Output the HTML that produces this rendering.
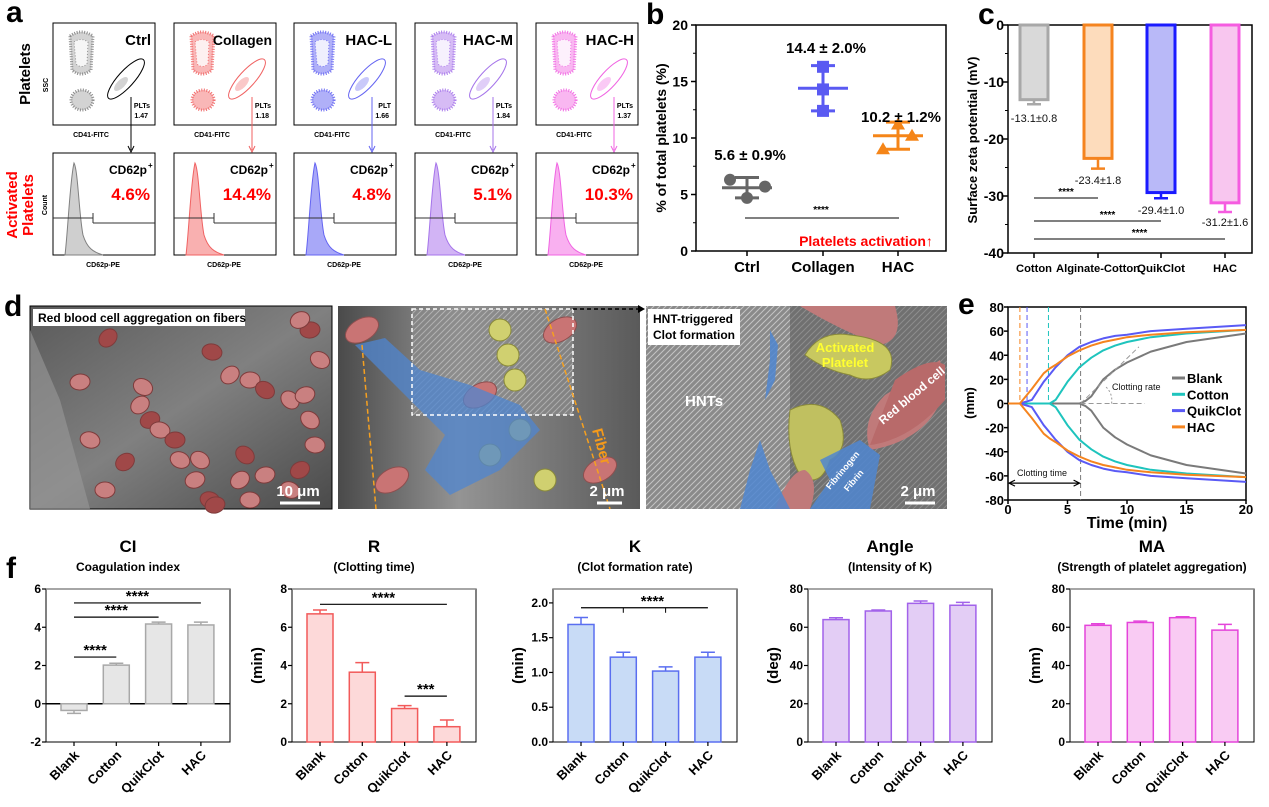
<!DOCTYPE html>
<html><head><meta charset="utf-8"><style>
html,body{margin:0;padding:0;background:#fff}
svg{display:block;font-family:"Liberation Sans",Arial,sans-serif}
</style></head><body>
<svg id="fig" width="1269" height="807" viewBox="0 0 1269 807" xmlns="http://www.w3.org/2000/svg">
<defs>
<linearGradient id="semA" x1="0" y1="0" x2="1" y2="1"><stop offset="0" stop-color="#5a5a5a"/><stop offset="0.5" stop-color="#808080"/><stop offset="1" stop-color="#4a4a4a"/></linearGradient>
<linearGradient id="semB" x1="0" y1="0" x2="1" y2="0"><stop offset="0" stop-color="#4a4a4a"/><stop offset="0.4" stop-color="#949494"/><stop offset="1" stop-color="#5a5a5a"/></linearGradient>
<pattern id="fibers" width="6" height="6" patternUnits="userSpaceOnUse"><rect width="6" height="6" fill="#8a8a8a"/><path d="M0 6L6 0M-1 1L1 -1M5 7L7 5" stroke="#c4c4c4" stroke-width="1"/></pattern>
</defs>
</svg>
<script>
const NS='http://www.w3.org/2000/svg';
const svg=document.getElementById('fig');
function mk(tag,attrs,parent){const e=document.createElementNS(NS,tag);for(const k in attrs)e.setAttribute(k,attrs[k]);(parent||svg).appendChild(e);return e;}
function tx(x,y,s,attrs,parent){const a=Object.assign({x:x,y:y,'font-size':12,fill:'#000'},attrs||{});const e=mk('text',a,parent);e.textContent=s;return e;}

/* ================= DATA ================= */
const aNames=['Ctrl','Collagen','HAC-L','HAC-M','HAC-H'];
const aPlt=['1.47','1.18','1.66','1.84','1.37'];
const aPltLbl=['PLTs','PLTs','PLT','PLTs','PLTs'];
const aPct=['4.6%','14.4%','4.8%','5.1%','10.3%'];
const bCats=['Ctrl','Collagen','HAC'];
const bPoints=[[6.3,5.7,4.7],[16.3,14.3,12.4],[11.2,10.2,9.0]];
const bMean=[5.6,14.4,10.2];
const bSD=[0.9,2.0,1.2];
const bTicks=[0,5,10,15,20];
const cCats=['Cotton','Alginate-Cotton','QuikClot','HAC'];
const cVals=[-13.1,-23.4,-29.4,-31.2];
const cErr=[0.8,1.8,1.0,1.6];
const cTicks=[0,-10,-20,-30,-40];
const eTimes=[0,1,2,3,3.5,4,5,6,6.5,7,8,9,10,12,15,20];
const eBlank=[0,0,0,0,0,0,0,0,2,6,20,28,34,43,51,58];
const eCotton=[0,0,0,0,0,3,18,30,34,38,44,48,51,55,58,61];
const eQuik=[0,0,3,18,24,30,40,47,49,51,54,56,57,60,62,65];
const eHAC=[0,0,12,25,29,32,39,44,46,48,51,53,55,57,59,61];
const eR=[6.1,3.4,1.6,1.0];
const eYTicks=[80,60,40,20,0,-20,-40,-60,-80];
const eXTicks=[0,5,10,15,20];
const fCats=['Blank','Cotton','QuikClot','HAC'];
const ciVals=[-0.35,2.02,4.17,4.12], ciErr=[0.15,0.1,0.1,0.15];
const rVals=[6.7,3.65,1.75,0.8], rErr=[0.2,0.5,0.15,0.35];
const kVals=[1.69,1.22,1.02,1.22], kErr=[0.1,0.07,0.06,0.07];
const angVals=[64,68.5,72.5,71.5], angErr=[1,0.5,1.2,1.5];
const maVals=[61,62.5,65,58.5], maErr=[0.8,0.7,0.5,3];
const ciTicks=[-2,0,2,4,6], rTicks=[0,2,4,6,8], kTicks=[0,0.5,1,1.5,2], kTickLbl=['0.0','0.5','1.0','1.5','2.0'], angTicks=[0,20,40,60,80];

/* ================= PANEL LETTERS ================= */
[['a',6,22],['b',646,24],['c',978,24],['d',4,316],['e',958,314],['f',6,578]].forEach(p=>{
  const t=tx(p[1],p[2],p[0],{'font-size':30,'font-weight':'bold'});
  
  
});

/* ================= PANEL A ================= */
const aCol=['#808080','#f06262','#6464f2','#a574ea','#f064e2'];
const aFill=['#cfcfcf','#f9b0b0','#a8a8f8','#d2b4f5','#f9b0f0'];
const aX=[53,174,294,415,536], aW=102;
{
 const g=mk('g',{});
 
 
 let t=tx(0,0,'Platelets',{'font-size':15,'font-weight':'bold',transform:'translate(30,74) rotate(-90)','text-anchor':'middle'},g);
 
 tx(0,0,'SSC',{'font-size':7,'font-weight':'bold',transform:'translate(48,85) rotate(-90)','text-anchor':'middle'},g);
 t=tx(0,0,'Activated',{'font-size':15,'font-weight':'bold',fill:'#f00',transform:'translate(17,205) rotate(-90)','text-anchor':'middle'},g);
 
 tx(0,0,'Platelets',{'font-size':15,'font-weight':'bold',fill:'#f00',transform:'translate(33,205) rotate(-90)','text-anchor':'middle'},g);
 tx(0,0,'Count',{'font-size':7,'font-weight':'bold',transform:'translate(47,205) rotate(-90)','text-anchor':'middle'},g);
 for(let i=0;i<5;i++){
  const x=aX[i], c=aCol[i];
  const sg=mk('g',{},g);
  
  
  mk('rect',{x:x,y:23,width:aW,height:102,fill:'#fff',stroke:'#000','stroke-width':1},sg);
  mk('path',{d:`M${x+17} 36 Q${x+28} 28 ${x+40} 36 L${x+38} 70 Q${x+28} 78 ${x+19} 70 Z`,fill:aFill[i],stroke:c,'stroke-width':3,'stroke-dasharray':'1 1.5',opacity:0.9},sg);
  mk('path',{d:`M${x+21} 42 Q${x+28} 37 ${x+35} 42 L${x+34} 64 Q${x+28} 69 ${x+23} 64 Z`,fill:'#fff',stroke:c,'stroke-width':1,'stroke-dasharray':'1 2',opacity:0.8},sg);
  mk('ellipse',{cx:x+29,cy:100,rx:11,ry:10,fill:aFill[i],stroke:c,'stroke-width':3,'stroke-dasharray':'1 1.5',opacity:0.9},sg);
  mk('ellipse',{cx:x+68,cy:84,rx:9,ry:4,fill:c,opacity:0.35,transform:`rotate(-45 ${x+68} 84)`},sg);
  mk('ellipse',{cx:x+73,cy:79,rx:26,ry:8,fill:'none',stroke:i==0?'#000':c,'stroke-width':1,transform:`rotate(-48 ${x+73} 79)`},sg);
  tx(x+aW-4,45,aNames[i],{'font-size':i==1?14:15,'font-weight':'bold','text-anchor':'end'},sg);
  tx(x+aW-5,108,aPltLbl[i],{'font-size':7,'font-weight':'bold','text-anchor':'end'},sg);
  tx(x+aW-7,118,aPlt[i],{'font-size':7,'font-weight':'bold','text-anchor':'end'},sg);
  tx(x+38,137,'CD41-FITC',{'font-size':7,'font-weight':'bold','text-anchor':'middle'},sg);
  mk('line',{x1:x+78,y1:97,x2:x+78,y2:150,stroke:i==0?'#000':c,'stroke-width':1},sg);
  mk('path',{d:`M${x+75} 146 L${x+78} 152 L${x+81} 146`,fill:'none',stroke:i==0?'#000':c},sg);
  const hg=mk('g',{},g);
  
  
  mk('rect',{x:x,y:153,width:aW,height:102,fill:'#fff',stroke:'#000','stroke-width':1},hg);
  mk('path',{d:`M${x+12} 255 C${x+15} 230 ${x+17} 180 ${x+21} 163 C${x+25} 170 ${x+26} 215 ${x+30} 235 C${x+34} 248 ${x+40} 252 ${x+50} 255 Z`,fill:aFill[i],stroke:c,'stroke-width':1},hg);
  mk('path',{d:`M${x} 218 H${x+40} M${x+40} 213 V223 M${x+40} 223 H${x+aW}`,stroke:'#333','stroke-width':1,fill:'none'},hg);
  tx(x+aW-8,174,'CD62p',{'font-size':12,'font-weight':'bold','text-anchor':'end'},hg);
  tx(x+aW-7,168,'+',{'font-size':8,'font-weight':'bold','text-anchor':'start'},hg);
  tx(x+aW-5,200,aPct[i],{'font-size':17,'font-weight':'bold',fill:'#f00','text-anchor':'end'},hg);
  tx(x+50,267,'CD62p-PE',{'font-size':7,'font-weight':'bold','text-anchor':'middle'},hg);
 }
}

/* ================= PANEL B ================= */
{
 const g=mk('g',{});
 
 
 const L=696,R=946,T=25,B=251;
 const y=v=>B-(v/20)*(B-T);
 const xc=[747,823,898];
 mk('path',{d:`M${L} ${T}H${R}V${B}H${L}Z`,fill:'none',stroke:'#000','stroke-width':1.5},g);
 bTicks.forEach(v=>{
  mk('line',{x1:L-5,x2:L,y1:y(v),y2:y(v),stroke:'#000','stroke-width':1.5},g);
  const t=tx(L-8,y(v)+5,String(v),{'font-size':14,'font-weight':'bold','text-anchor':'end'},g);
  
 });
 [2.5,7.5,12.5,17.5].forEach(v=>mk('line',{x1:L-3,x2:L,y1:y(v),y2:y(v),stroke:'#000'},g));
 const yl=tx(0,0,'% of total platelets (%)',{'font-size':14,'font-weight':'bold','text-anchor':'middle',transform:'translate(666,138) rotate(-90)'},g);
 
 const cols=['#666','#5a5af2','#f58518'];
 const lbl=['5.6 ± 0.9%','14.4 ± 2.0%','10.2 ± 1.2%'];
 const lblY=[160,53,122];
 const offs=[[-17,18,0],[0,0,0],[0,14,-15]];
 for(let i=0;i<3;i++){
  const cx=xc[i];
  mk('line',{x1:cx,x2:cx,y1:B,y2:B+5,stroke:'#000','stroke-width':1.5},g);
  const ct=tx(cx,272,bCats[i],{'font-size':15,'font-weight':'bold','text-anchor':'middle'},g);
  
  const eg=mk('g',{},g);
  
  
  mk('line',{x1:cx-25,x2:cx+25,y1:y(bMean[i]),y2:y(bMean[i]),stroke:cols[i],'stroke-width':3},eg);
  mk('path',{d:`M${cx} ${y(bMean[i]+bSD[i])}V${y(bMean[i]-bSD[i])}M${cx-12} ${y(bMean[i]+bSD[i])}H${cx+12}M${cx-12} ${y(bMean[i]-bSD[i])}H${cx+12}`,stroke:cols[i],'stroke-width':3,fill:'none'},eg);
  bPoints[i].forEach((v,j)=>{
   const px=cx+offs[i][j], py=y(v);
   let m;
   if(i==0) m=mk('circle',{cx:px,cy:py,r:6,fill:cols[i]},g);
   else if(i==1) m=mk('rect',{x:px-6,y:py-6,width:12,height:12,fill:cols[i]},g);
   else m=mk('path',{d:`M${px} ${py-7}L${px+7} ${py+5}L${px-7} ${py+5}Z`,fill:cols[i]},g);
   
   
  });
  const vt=tx(cx+3,lblY[i],lbl[i],{'font-size':15,'font-weight':'bold','text-anchor':'middle'},g);
  
 }
 mk('line',{x1:745,x2:899,y1:218,y2:218,stroke:'#000','stroke-width':1},g);
 tx(821,213,'****',{'font-size':10,'font-weight':'bold','text-anchor':'middle'},g);
 const pa=tx(866,246,'Platelets activation↑',{'font-size':14,'font-weight':'bold',fill:'#f00','text-anchor':'middle'},g);
 
}

/* ================= PANEL C ================= */
{
 const g=mk('g',{});
 
 
 const L=1008,R=1252,T=25,B=253;
 const y=v=>T+(-v/40)*(B-T);
 const xc=[1034,1098,1161,1225];
 const cols=['#a8a8a8','#f5841f','#1a1aff','#f55ce0'], fills=['#d9d9d9','#fddcbc','#b9b9f8','#f8c6ef'];
 mk('path',{d:`M${L} ${B}V${T}H${R}V${B}Z`,fill:'none',stroke:'#000','stroke-width':1.5},g);
 cTicks.forEach(v=>{
  mk('line',{x1:L-5,x2:L,y1:y(v),y2:y(v),stroke:'#000','stroke-width':1.5},g);
  const t=tx(L-4,y(v)+5,String(v),{'font-size':14,'font-weight':'bold','text-anchor':'end'},g);
  
 });
 [-5,-15,-25,-35].forEach(v=>mk('line',{x1:L-3,x2:L,y1:y(v),y2:y(v),stroke:'#000'},g));
 const yl=tx(0,0,'Surface zeta potential (mV)',{'font-size':13,'font-weight':'bold','text-anchor':'middle',transform:'translate(977,140) rotate(-90)'},g);
 
 const lblY=[122,184,214,226];
 const lblW=[36,84,48,0];
 for(let i=0;i<4;i++){
  const cx=xc[i], bw=28;
  const b=mk('rect',{x:cx-bw/2,y:y(0),width:bw,height:y(cVals[i])-y(0),fill:fills[i],stroke:cols[i],'stroke-width':3},g);
  
  
  mk('path',{d:`M${cx} ${y(cVals[i])}V${y(cVals[i]-cErr[i])}M${cx-7} ${y(cVals[i]-cErr[i])}H${cx+7}`,stroke:cols[i],'stroke-width':2.5,fill:'none'},g);
  mk('line',{x1:cx,x2:cx,y1:B,y2:B+5,stroke:'#000','stroke-width':1.5},g);
  const ca={'font-size':11,'font-weight':'bold','text-anchor':'middle'};
  if(lblW[i]){ca.textLength=lblW[i];ca.lengthAdjust='spacingAndGlyphs';}
  const ct=tx(cx,272,cCats[i],ca,g);
  
  tx(cx,lblY[i],cVals[i].toFixed(1)+'±'+cErr[i].toFixed(1),{'font-size':11,'text-anchor':'middle',fill:'#111'},g);
 }
 [[1098,198],[1161,221],[1225,239]].forEach((s,j)=>{
  mk('line',{x1:1034,x2:s[0],y1:s[1],y2:s[1],stroke:'#000','stroke-width':1},g);
  tx(1034+(s[0]-1034)/2+(j==0?0:10),s[1]-3,'****',{'font-size':10,'font-weight':'bold','text-anchor':'middle'},g);
 });
}

/* ================= PANEL D (SEM images) ================= */
{
 const g=mk('g',{});
 
 
 const Y0=306,H=203;
 // image 1
 const i1=mk('g',{},g);
 
 
 mk('rect',{x:30,y:Y0,width:302,height:H,fill:'url(#semA)',stroke:'#000'},i1);
 mk('path',{d:'M30 330 L60 400 L90 509 L30 509Z',fill:'#9a9a9a',opacity:0.6},i1);
 const rbc=[[108,338],[80,382],[143,387],[150,420],[160,430],[140,405],[175,440],[200,460],[195,480],[210,500],[240,480],[250,500],[245,455],[265,475],[290,490],[300,470],[315,445],[290,400],[310,330],[320,360],[300,320],[212,352],[230,375],[250,380],[265,390],[305,395],[90,440],[125,462],[105,490],[310,420],[215,505],[180,460]];
 rbc.forEach((p,k)=>mk('ellipse',{cx:p[0],cy:p[1],rx:10,ry:8,fill:k%3==0?'#a04848':'#c98080',stroke:'#7e3b3b','stroke-width':1,transform:`rotate(${k*37%90-45} ${p[0]} ${p[1]})`},i1));
 mk('rect',{x:33,y:309,width:212,height:17,fill:'#fff'},i1);
 tx(38,322,'Red blood cell aggregation on fibers',{'font-size':12,'font-weight':'bold'},i1);
 mk('line',{x1:280,x2:320,y1:503,y2:503,stroke:'#fff','stroke-width':3},i1);
 tx(298,496,'10 μm',{'font-size':15,'font-weight':'bold',fill:'#fff','text-anchor':'middle'},i1);
 // image 2
 const i2=mk('g',{},g);
 
 
 mk('rect',{x:338,y:Y0,width:302,height:H,fill:'url(#semB)'},i2);
 mk('rect',{x:412,y:309,width:161,height:106,fill:'url(#fibers)',opacity:0.7},i2);
 [[362,330],[560,330],[392,480],[480,395],[600,470]].forEach(p=>mk('ellipse',{cx:p[0],cy:p[1],rx:18,ry:11,fill:'#c97474',stroke:'#8e4f4f',transform:`rotate(-30 ${p[0]} ${p[1]})`},i2));
 [[500,330],[508,355],[515,380],[490,455],[545,480],[520,430]].forEach(p=>mk('circle',{cx:p[0],cy:p[1],r:11,fill:'#d0d070',stroke:'#8a8a3a'},i2));
 mk('path',{d:'M355 345 L385 338 L420 370 L470 385 L520 405 L540 430 L500 470 L450 495 L425 470 L445 435 Z',fill:'#4f86d0',opacity:0.75},i2);
 mk('rect',{x:412,y:309,width:161,height:106,fill:'none',stroke:'#fff','stroke-width':1.5,'stroke-dasharray':'4 3'},i2);
 mk('line',{x1:362,y1:345,x2:376,y2:509,stroke:'#f5a020','stroke-width':1.5,'stroke-dasharray':'5 3'},i2);
 mk('line',{x1:545,y1:309,x2:610,y2:509,stroke:'#f5a020','stroke-width':1.5,'stroke-dasharray':'5 3'},i2);
 tx(0,0,'Fiber',{'font-size':15,'font-weight':'bold',fill:'#f59a1a',transform:'translate(592,430) rotate(75)'},i2);
 mk('line',{x1:597,x2:622,y1:503,y2:503,stroke:'#fff','stroke-width':3},i2);
 tx(607,496,'2 μm',{'font-size':15,'font-weight':'bold',fill:'#fff','text-anchor':'middle'},i2);
 mk('line',{x1:573,y1:309,x2:642,y2:309,stroke:'#000','stroke-width':1.5,'stroke-dasharray':'4 3'},g);
 mk('path',{d:'M638 305 L645 309 L638 313Z',fill:'#000'},g);
 // image 3
 const i3=mk('g',{},g);
 
 
 mk('rect',{x:646,y:Y0,width:301,height:H,fill:'url(#fibers)'},i3);
 mk('rect',{x:790,y:Y0,width:157,height:H,fill:'#555',opacity:0.5},i3);
 mk('path',{d:'M800 306 L895 306 Q905 340 880 345 Q840 330 800 306Z',fill:'#c07a7a'},i3);
 mk('path',{d:'M885 395 L940 360 L945 390 Q930 440 870 450 Q860 420 885 395Z',fill:'#c07a7a'},i3);
 mk('path',{d:'M895 380 Q930 355 945 365 L945 400 Q910 440 870 445Z',fill:'#b86a6a'},i3);
 mk('path',{d:'M805 355 Q820 330 850 335 Q900 340 890 370 Q870 385 850 375 Q825 370 805 355Z',fill:'#c8c860',stroke:'#8a8a3a'},i3);
 mk('path',{d:'M790 410 Q820 395 840 420 Q850 450 830 460 Q820 490 800 475 Q785 450 790 410Z',fill:'#c0c060',stroke:'#8a8a3a'},i3);
 mk('path',{d:'M775 509 Q790 470 805 470 Q820 480 810 509Z',fill:'#c07a7a'},i3);
 mk('path',{d:'M820 460 L860 440 L880 455 L870 509 L810 509 L830 480Z',fill:'#4f86d0',opacity:0.85},i3);
 mk('path',{d:'M740 509 L750 470 L760 440 L770 470 L790 509Z',fill:'#4f86d0',opacity:0.85},i3);
 mk('path',{d:'M770 330 L778 345 L775 380 L765 400 L770 360Z',fill:'#4f86d0',opacity:0.85},i3);
 mk('rect',{x:648,y:309,width:92,height:36,fill:'#fff'},i3);
 tx(653,323,'HNT-triggered',{'font-size':12,'font-weight':'bold'},i3);
 tx(653,339,'Clot formation',{'font-size':12,'font-weight':'bold'},i3);
 tx(685,406,'HNTs',{'font-size':15,'font-weight':'bold',fill:'#fff'},i3);
 tx(845,352,'Activated',{'font-size':13,'font-weight':'bold',fill:'#ffff30','text-anchor':'middle'},i3);
 tx(845,367,'Platelet',{'font-size':13,'font-weight':'bold',fill:'#ffff30','text-anchor':'middle'},i3);
 tx(0,0,'Red blood cell',{'font-size':12,'font-weight':'bold',fill:'#fff',transform:'translate(883,425) rotate(-40)'},i3);
 tx(0,0,'Fibrinogen',{'font-size':9,'font-weight':'bold',fill:'#fff',transform:'translate(830,490) rotate(-50)'},i3);
 tx(0,0,'Fibrin',{'font-size':9,'font-weight':'bold',fill:'#fff',transform:'translate(848,492) rotate(-50)'},i3);
 mk('line',{x1:905,x2:935,y1:503,y2:503,stroke:'#fff','stroke-width':3},i3);
 tx(918,496,'2 μm',{'font-size':15,'font-weight':'bold',fill:'#fff','text-anchor':'middle'},i3);
}

/* ================= PANEL E (TEG curves) ================= */
{
 const g=mk('g',{});
 
 
 const L=1008,R=1246,T=307,B=500;
 const x=t=>L+t/20*(R-L), y=v=>T+(80-v)/160*(B-T);
 mk('rect',{x:L,y:T,width:R-L,height:B-T,fill:'none',stroke:'#000','stroke-width':1.5},g);
 eYTicks.forEach(v=>{
  mk('line',{x1:L-4,x2:L,y1:y(v),y2:y(v),stroke:'#000','stroke-width':1.5},g);
  const t=tx(L-4,y(v)+5,String(v),{'font-size':13,'font-weight':'bold','text-anchor':'end'},g);
  
 });
 eXTicks.forEach(v=>{
  mk('line',{x1:x(v),x2:x(v),y1:B,y2:B+4,stroke:'#000','stroke-width':1.5},g);
  const t=tx(x(v),514,String(v),{'font-size':13,'font-weight':'bold','text-anchor':'middle'},g);
  
 });
 const xt=tx(1127,528,'Time (min)',{'font-size':16,'font-weight':'bold','text-anchor':'middle'},g);
 
 const yt=tx(0,0,'(mm)',{'font-size':13,'font-weight':'bold','text-anchor':'middle',transform:'translate(974,403) rotate(-90)'},g);
 
 const series=[['Blank',eBlank,'#7a7a7a'],['Cotton',eCotton,'#1ec4bd'],['QuikClot',eQuik,'#5a5af5'],['HAC',eHAC,'#f5841f']];
 const rcols=['#7a7a7a','#1ec4bd','#5a5af5','#f5841f'];
 eR.forEach((r,i)=>{
  const l=mk('line',{x1:x(r),x2:x(r),y1:T,y2:i==0?B:y(0),stroke:rcols[i],'stroke-width':1,'stroke-dasharray':'5 3'},g);
  
  
 });
 series.forEach(s=>{
  const up='M'+eTimes.map((t,j)=>x(t).toFixed(1)+' '+y(s[1][j]).toFixed(1)).join(' L');
  const dn='M'+eTimes.map((t,j)=>x(t).toFixed(1)+' '+y(-s[1][j]).toFixed(1)).join(' L');
  const p=mk('path',{d:up+' '+dn,fill:'none',stroke:s[2],'stroke-width':2,'stroke-linejoin':'round'},g);
  
  
 });
 mk('line',{x1:x(6.1),y1:y(0),x2:x(11),y2:y(47),stroke:'#999','stroke-width':1,'stroke-dasharray':'5 3'},g);
 mk('line',{x1:x(6.1),y1:y(0),x2:x(11.5),y2:y(0),stroke:'#999','stroke-width':1,'stroke-dasharray':'5 3'},g);
 mk('path',{d:`M${x(8.7)} ${y(0)} A18 18 0 0 0 ${x(8.2)} ${y(14)}`,fill:'none',stroke:'#999','stroke-dasharray':'2 2'},g);
 tx(1112,390,'Clotting rate',{'font-size':9,fill:'#111'},g);
 mk('line',{x1:x(0)+2,y1:y(-66),x2:x(6.1)-2,y2:y(-66),stroke:'#000','stroke-width':1.2},g);
 mk('path',{d:`M${x(0)+7} ${y(-66)-3}L${x(0)+1} ${y(-66)}L${x(0)+7} ${y(-66)+3}M${x(6.1)-7} ${y(-66)-3}L${x(6.1)-1} ${y(-66)}L${x(6.1)-7} ${y(-66)+3}`,fill:'none',stroke:'#000','stroke-width':1.2},g);
 tx(1017,476,'Clotting time',{'font-size':9,fill:'#111'},g);
 series.forEach((s,i)=>{
  const lg=mk('g',{},g);
  
  
  const ly=378+i*16.3;
  mk('line',{x1:1172,x2:1185,y1:ly,y2:ly,stroke:s[2],'stroke-width':3},lg);
  tx(1187,ly+5,s[0],{'font-size':13,'font-weight':'bold'},lg);
 });
}

/* ================= PANEL F ================= */
function barPanel(key,L,title,sub,vals,errs,ticks,tickLbl,lo,hi,fill,stroke,ylab){
 const g=mk('g',{});
 
 
 const W=184,T=589,B=742;
 const y=v=>B-(v-lo)/(hi-lo)*(B-T);
 const tt=tx(L+W/2-10,552,title,{'font-size':17,'font-weight':'bold','text-anchor':'middle'},g);
 
 tx(L+W/2-10,571,sub,{'font-size':12,'font-weight':'bold','text-anchor':'middle'},g);
 mk('path',{d:`M${L} ${B}V${T}H${L+W}V${B}H${L}`,fill:'none',stroke:'#000','stroke-width':1},g);
 mk('line',{x1:L,x2:L+W,y1:T,y2:T,stroke:'#888','stroke-width':1.5},g);
 ticks.forEach((v,j)=>{
  mk('line',{x1:L-4,x2:L,y1:y(v),y2:y(v),stroke:'#000','stroke-width':1.2},g);
  const t=tx(L-5,y(v)+4,tickLbl?tickLbl[j]:String(v),{'font-size':12,'font-weight':'bold','text-anchor':'end'},g);
  
 });
 if(lo<0) mk('line',{x1:L,x2:L+W,y1:y(0),y2:y(0),stroke:'#000','stroke-width':1.5},g);
 if(ylab){const yl=tx(0,0,ylab,{'font-size':15,'font-weight':'bold','text-anchor':'middle',transform:`translate(${L-30},${(T+B)/2}) rotate(-90)`},g);
  }
 const xs=[];
 for(let i=0;i<4;i++){
  const cx=L+28+i*42.3; xs.push(cx);
  const bw=26, v=vals[i];
  const top=Math.min(y(v),y(Math.max(lo,0))), h=Math.abs(y(v)-y(Math.max(lo,0)));
  const b=mk('rect',{x:cx-bw/2,y:top,width:bw,height:h,fill:fill,stroke:stroke,'stroke-width':1.5},g);
  
  
  const ev=v>=0?v+errs[i]:v-errs[i];
  mk('path',{d:`M${cx} ${y(v)}V${y(ev)}M${cx-7} ${y(ev)}H${cx+7}`,stroke:stroke,'stroke-width':1.5,fill:'none'},g);
  mk('line',{x1:cx,x2:cx,y1:B,y2:B+4,stroke:'#000','stroke-width':1.2},g);
  const ct=tx(0,0,fCats[i],{'font-size':13,'font-weight':'bold','text-anchor':'end',transform:`translate(${cx+6},${B+14}) rotate(-45)`},g);
  
 }
 return {g:g,y:y,xs:xs};
}
function sig(p,i,j,v,stars,mids){
 const yy=p.y(v);
 mk('line',{x1:p.xs[i],x2:p.xs[j],y1:yy,y2:yy,stroke:'#000','stroke-width':1.2},p.g);
 (mids||[]).forEach(m=>mk('line',{x1:p.xs[m],x2:p.xs[m],y1:yy,y2:yy+5,stroke:'#000'},p.g));
 const cx=(p.xs[i]+p.xs[j])/2+(mids?8:0);
 tx(cx,yy-2,stars,{'font-size':15,'font-weight':'bold','text-anchor':'middle'},p.g);
}
const pCI=barPanel('ci',46,'CI','Coagulation index',ciVals,ciErr,ciTicks,null,-2,6,'#e6e6e6','#a8a8a8',null);
sig(pCI,0,3,5.27,'****');sig(pCI,0,2,4.53,'****');sig(pCI,0,1,2.44,'****');
const pR=barPanel('r',292,'R','(Clotting time)',rVals,rErr,rTicks,null,0,8,'#fdd9d9','#f25a5a','(min)');
sig(pR,0,3,7.2,'****');sig(pR,2,3,2.4,'***');
const pK=barPanel('k',553,'K','(Clot formation rate)',kVals,kErr,kTicks,kTickLbl,0,2.2,'#c8dbf6','#5a6ef0','(min)');
sig(pK,0,3,1.93,'****',[1,2]);
barPanel('angle',808,'Angle','(Intensity of K)',angVals,angErr,angTicks,null,0,80,'#e3cdf5','#a262ea','(deg)');
barPanel('ma',1070,'MA','(Strength of platelet aggregation)',maVals,maErr,angTicks,null,0,80,'#f9cbf3','#e444da','(mm)');
</script>
</body></html>
